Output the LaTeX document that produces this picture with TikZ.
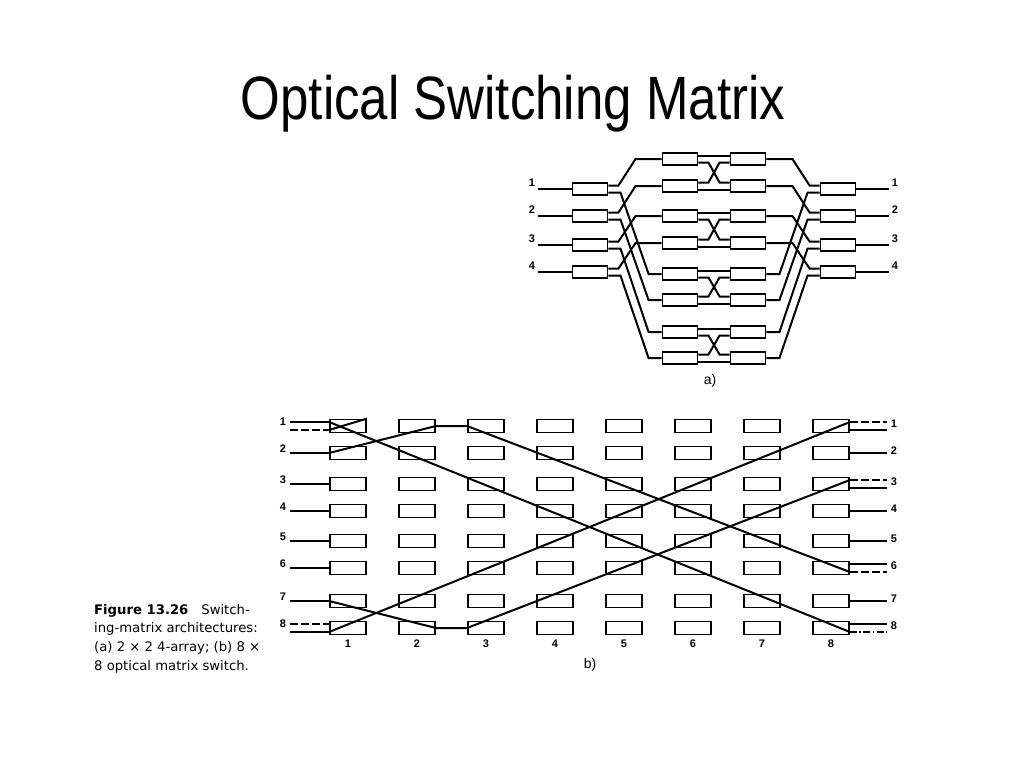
\documentclass[tikz,border=0pt]{standalone}
\usepackage{fontspec}
\setmainfont{Liberation Sans}
\newfontfamily\capfont{DejaVu Sans}
\usetikzlibrary{positioning}
\tikzset{
  fibre/.style={line width=2pt},
  dashfibre/.style={fibre, dash pattern=on 8pt off 3pt},
  dotfibre/.style={fibre, dash pattern=on 7pt off 2.5pt on 1.5pt off 2.5pt},
  abox/.style={draw, line width=1.9pt, minimum width=35pt, minimum height=12pt, inner sep=0pt},
  cellbox/.style={draw, line width=1.9pt, minimum width=36pt, minimum height=13pt, inner sep=0pt},
  numlabel/.style={font=\bfseries\fontsize{11}{12}\selectfont, inner sep=0pt},
  sublabel/.style={font=\fontsize{14}{16}\selectfont, inner sep=0pt}
}

\begin{document}
\begin{tikzpicture}[x=1pt, y=-1pt]
\fill[white] (0,0) rectangle (1024,768);
\useasboundingbox (0,0) rectangle (1024,768);

% Title
\node[font=\fontsize{51}{60}\selectfont, anchor=base, yscale=1.2] (title) at (513,119.5) {Optical Switching Matrix};

% (a) 2x2 4-array: input and output couplers
\foreach \i/\y in {1/189,2/216,3/245,4/272}{
  \node[abox] (ain\i) at (590,\y) {};
  \node[abox] (aout\i) at (838,\y) {};
  \coordinate (ainL\i) at (538,\y);
  \coordinate (aoutR\i) at (889,\y);
  \draw[fibre] (ainL\i) -- (ain\i);
  \draw[fibre] (aout\i) -- (aoutR\i);
  \node[numlabel] at ([xshift=-6pt,yshift=6pt]ainL\i) {\i};
  \node[numlabel] at ([xshift=6pt,yshift=6pt]aoutR\i) {\i};
}
% middle switch pairs
\foreach \r/\y in {1/159,2/186,3/216,4/243,5/274,6/300,7/332,8/358}{
  \node[abox] (ml\r) at (680,\y) {};
  \node[abox] (mr\r) at (748,\y) {};
}
\foreach \a/\b in {1/2,3/4,5/6,7/8}{
  \draw[fibre] ([yshift=3.5pt]ml\a.east) -- ([yshift=3.5pt]mr\a.west);
  \draw[fibre] ([yshift=-3.5pt]ml\b.east) -- ([yshift=-3.5pt]mr\b.west);
  \draw[fibre] ([yshift=-3.5pt]ml\a.east) -- ++(10,0) -- ([xshift=-10pt,yshift=3.5pt]mr\b.west) -- ([yshift=3.5pt]mr\b.west);
  \draw[fibre] ([yshift=3.5pt]ml\b.east) -- ++(10,0) -- ([xshift=-10pt,yshift=-3.5pt]mr\a.west) -- ([yshift=-3.5pt]mr\a.west);
}
% couplers to middle pairs
\foreach \i in {1,...,4}{
  \pgfmathtruncatemacro\j{\i+4}
  \draw[fibre] ([yshift=3.5pt]ain\i.east) -- ++(10,0) -- ([xshift=-26pt]ml\i.west) -- (ml\i.west);
  \draw[fibre] ([yshift=-3.5pt]ain\i.east) -- ++(12,0) -- ([xshift=-13pt]ml\j.west) -- (ml\j.west);
  \draw[fibre] (mr\i.east) -- ([xshift=26pt]mr\i.east) -- ([xshift=-10pt,yshift=3.5pt]aout\i.west) -- ([yshift=3.5pt]aout\i.west);
  \draw[fibre] (mr\j.east) -- ([xshift=13pt]mr\j.east) -- ([xshift=-12pt,yshift=-3.5pt]aout\i.west) -- ([yshift=-3.5pt]aout\i.west);
}
\node[sublabel] (capa) at (710,381) {a)};

% (b) 8x8 matrix switch
\foreach \r/\y in {1/426,2/453,3/484,4/511,5/541,6/568,7/601,8/628}{
  \foreach \c in {1,...,8}{
    \node[cellbox] (sw\r-\c) at ({348+69*(\c-1)},\y) {};
  }
  \coordinate (bin\r) at (290,\y);
  \coordinate (bout\r) at (887,\y);
  \node[numlabel] at ([xshift=-7pt,yshift=4pt]bin\r) {\r};
  \node[numlabel] at ([xshift=7pt,yshift=2pt]bout\r) {\r};
}
\foreach \c in {1,...,8}{
  \node[numlabel, below=4.5pt of sw8-\c] {\c};
}
% input and output fibres
\foreach \r in {2,...,7}{
  \draw[fibre] (bin\r) -- (sw\r-1);
}
\foreach \r in {2,4,5,7}{
  \draw[fibre] (sw\r-8) -- (bout\r);
}
\draw[fibre] ([yshift=4pt]bin1) -- ([yshift=4pt]sw1-1.west);
\draw[dashfibre] ([yshift=-4pt]bin1) -- ([yshift=-4pt]sw1-1.west);
\draw[dashfibre] ([yshift=4pt]bin8) -- ([yshift=4pt]sw8-1.west);
\draw[fibre] ([yshift=-4pt]bin8) -- ([yshift=-4pt]sw8-1.west);
\draw[dashfibre] ([yshift=4pt]sw1-8.east) -- ([yshift=4pt]bout1);
\draw[fibre] ([yshift=-4pt]sw1-8.east) -- ([yshift=-4pt]bout1);
\draw[dashfibre] ([yshift=4pt]sw3-8.east) -- ([yshift=4pt]bout3);
\draw[fibre] ([yshift=-4pt]sw3-8.east) -- ([yshift=-4pt]bout3);
\draw[fibre] ([yshift=4pt]sw6-8.east) -- ([yshift=4pt]bout6);
\draw[dashfibre] ([yshift=-4pt]sw6-8.east) -- ([yshift=-4pt]bout6);
\draw[fibre] ([yshift=4pt]sw8-8.east) -- ([yshift=4pt]bout8);
\draw[dotfibre] ([yshift=-4pt]sw8-8.east) -- ([yshift=-4pt]bout8);
% light paths
\draw[fibre] ([yshift=4pt]sw1-1.west) -- ([yshift=-4pt]sw8-8.east);
\draw[fibre] ([yshift=-4pt]sw1-1.west) -- (sw1-1.north east);
\draw[fibre] (sw2-1.west) -- (sw1-2.east) -- (sw1-3.west) -- ([yshift=-4pt]sw6-8.east);
\draw[fibre] ([yshift=-4pt]sw8-1.west) -- ([yshift=4pt]sw1-8.east);
\draw[fibre] (sw7-1.west) -- (sw8-2.east) -- (sw8-3.west) -- ([yshift=4pt]sw3-8.east);
\node[sublabel] (capb) at (590,665) {b)};

% Caption
\node[font=\capfont\fontsize{13.2}{18.7}\selectfont, align=left, inner sep=0pt, anchor=north west] (caption) at (94,604)
  {{\bfseries Figure 13.26}\hspace{13pt}Switch-\\ing-matrix architectures:\\(a) 2 × 2 4-array; (b) 8 ×\\8 optical matrix switch.};
\end{tikzpicture}
\end{document}
